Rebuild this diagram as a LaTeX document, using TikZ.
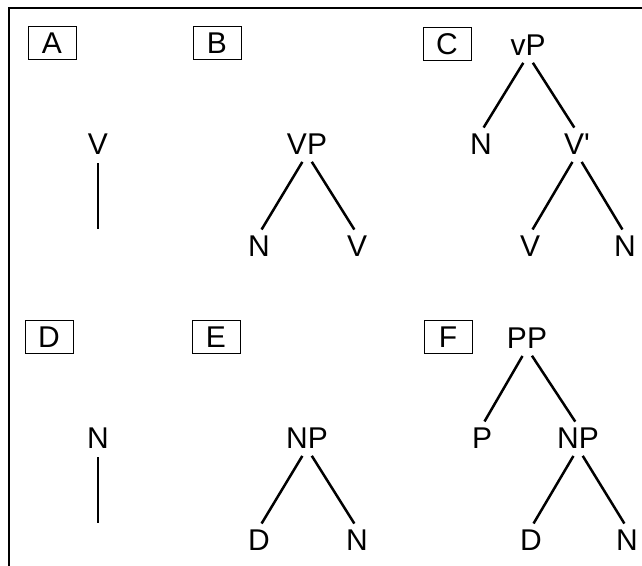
\documentclass[tikz,border=0pt]{standalone}
\usepackage{fontspec}
\newfontfamily\treefont{Liberation Sans}
\tikzset{
  lab/.style={inner sep=0pt, text height=22pt, text depth=0pt,
    font=\treefont\fontsize{30}{36}\selectfont},
  panel/.style={draw, line width=1pt, minimum width=48pt, minimum height=33pt,
    inner sep=0pt, font=\treefont\fontsize{30}{36}\selectfont},
  branch/.style={line width=2.5pt, shorten <=9pt, shorten >=5pt}
}
\begin{document}
\begin{tikzpicture}[x=1pt, y=-1pt]
    \useasboundingbox (0,0) rectangle (642,565);
    \draw[line width=2.2pt] (9,566) -- (9,8) -- (643,8);
    % panel labels
    \node[panel] (pa) at (52,43) {A};
    \node[panel] (pb) at (217,43) {B};
    \node[panel] (pc) at (447,44) {C};
    \node[panel] (pd) at (49,337) {D};
    \node[panel] (pe) at (216,337) {E};
    \node[panel] (pf) at (448,337) {F};
    % A
    \node[lab] (av) at (98,143) {V};
    \coordinate (aend) at (98,229);
    \draw[branch, shorten >=0pt] (av.south) -- (aend);
    % B
    \node[lab] (bvp) at (307,143) {VP};
    \node[lab] (bn) at (259,245) {N};
    \node[lab] (bv) at (357,245) {V};
    \draw[branch] (bvp.south) -- (bn.north);
    \draw[branch] (bvp.south) -- (bv.north);
    % C
    \node[lab] (cvp) at (528,44) {vP};
    \node[lab] (cn) at (481,143) {N};
    \node[lab] (cvbar) at (577,143) {V'};
    \node[lab] (cv) at (530,245) {V};
    \node[lab] (cn2) at (625,245) {N};
    \draw[branch] (cvp.south) -- (cn.north);
    \draw[branch] (cvp.south) -- (cvbar.north);
    \draw[branch] (cvbar.south) -- (cv.north);
    \draw[branch] (cvbar.south) -- (cn2.north);
    % D
    \node[lab] (dn) at (98,437) {N};
    \coordinate (dend) at (98,523);
    \draw[branch, shorten >=0pt] (dn.south) -- (dend);
    % E
    \node[lab] (enp) at (307,437) {NP};
    \node[lab] (ed) at (259,539) {D};
    \node[lab] (en) at (357,539) {N};
    \draw[branch] (enp.south) -- (ed.north);
    \draw[branch] (enp.south) -- (en.north);
    % F
    \node[lab] (fpp) at (527,337) {PP};
    \node[lab] (fp) at (482,437) {P};
    \node[lab] (fnp) at (578,437) {NP};
    \node[lab] (fd) at (531,539) {D};
    \node[lab] (fn) at (627,539) {N};
    \draw[branch] (fpp.south) -- (fp.north);
    \draw[branch] (fpp.south) -- (fnp.north);
    \draw[branch] (fnp.south) -- (fd.north);
    \draw[branch] (fnp.south) -- (fn.north);
\end{tikzpicture}
\end{document}
